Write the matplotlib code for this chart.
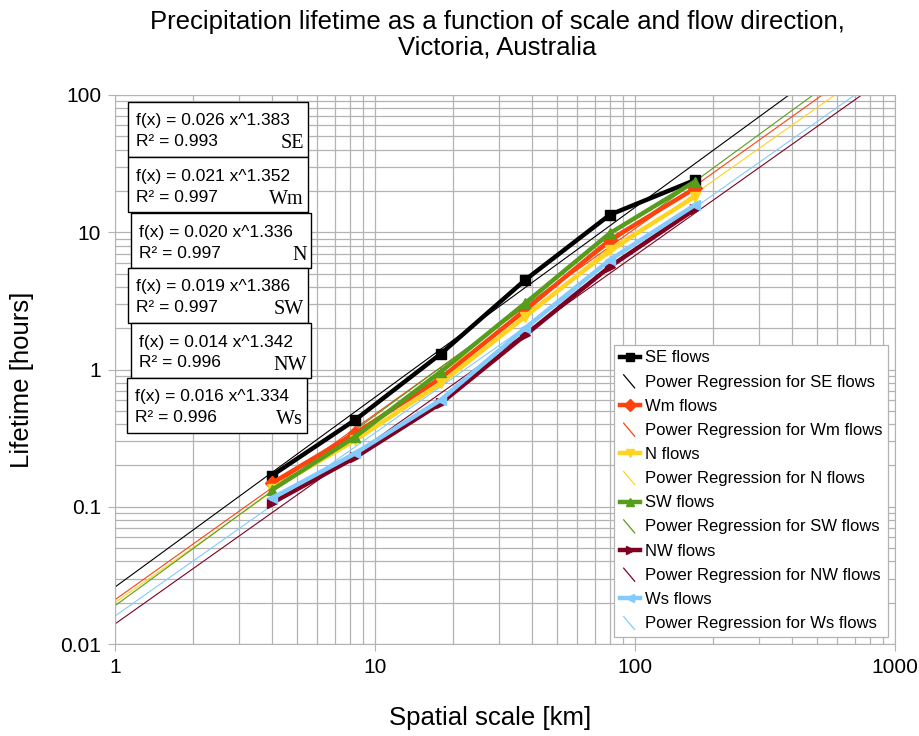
import numpy as np
import matplotlib
matplotlib.use("Agg")
import matplotlib.pyplot as plt
from matplotlib.lines import Line2D
from matplotlib.legend_handler import HandlerBase
from matplotlib.ticker import FixedLocator, LogLocator, NullFormatter, FuncFormatter

plt.rcParams['font.family'] = ['Liberation Sans', 'DejaVu Sans']

scales = [4, 8.4, 17.9, 37.8, 80, 170]
series_names = ["SE", "Wm", "N", "SW", "NW", "Ws"]
lifetime_SE = [0.168, 0.43, 1.30, 4.49, 13.4, 24.0]
lifetime_Wm = [0.148, 0.343, 0.863, 2.71, 8.78, 20.9]
lifetime_N = [0.135, 0.306, 0.793, 2.43, 7.43, 18.2]
lifetime_SW = [0.132, 0.324, 0.964, 3.04, 9.83, 23.4]
lifetime_NW = [0.106, 0.229, 0.567, 1.78, 5.61, 14.7]
lifetime_Ws = [0.115, 0.245, 0.60, 2.0, 6.28, 15.8]
coef = [0.026, 0.021, 0.020, 0.019, 0.014, 0.016]
expo = [1.383, 1.352, 1.336, 1.386, 1.342, 1.334]
r2 = [0.993, 0.997, 0.997, 0.997, 0.996, 0.996]
colors = ["#000000", "#FF420E", "#FFD320", "#579D1C", "#7E0021", "#83CAFF"]
markers = ["s", "D", "v", "^", ">", "<"]
x_ticks = [1, 10, 100, 1000]
y_ticks = [0.01, 0.1, 1, 10, 100]

data = [lifetime_SE, lifetime_Wm, lifetime_N, lifetime_SW, lifetime_NW, lifetime_Ws]

fig = plt.figure(figsize=(9.2, 7.36), dpi=100)
ax = fig.add_axes([115/920, 1-644/736, (895-115)/920, (644-95)/736])
ax.set_xscale('log')
ax.set_yscale('log')
ax.set_xlim(1, 1000)
ax.set_ylim(0.01, 100)

ax.xaxis.set_major_locator(FixedLocator(x_ticks))
ax.yaxis.set_major_locator(FixedLocator(y_ticks))
ax.xaxis.set_minor_locator(LogLocator(base=10, subs=np.arange(2, 10), numticks=20))
ax.yaxis.set_minor_locator(LogLocator(base=10, subs=np.arange(2, 10), numticks=20))
ax.xaxis.set_minor_formatter(NullFormatter())
ax.yaxis.set_minor_formatter(NullFormatter())
fmt = FuncFormatter(lambda v, p: '%g' % v)
ax.xaxis.set_major_formatter(fmt)
ax.yaxis.set_major_formatter(fmt)
ax.tick_params(which='major', length=5, color='#b3b3b3', labelsize=15, pad=5)
ax.tick_params(which='minor', length=0)
ax.grid(True, which='both', color='#b3b3b3', lw=0.9)
ax.set_axisbelow(True)
for s in ax.spines.values():
    s.set_color('#b3b3b3')

xfit = np.logspace(0, 3, 200)
handles = []
labels = []
for i, name in enumerate(series_names):
    ln, = ax.plot(scales, data[i], color=colors[i], lw=3.2, marker=markers[i],
                  ms=7, zorder=3 + i * 0.1)
    rl, = ax.plot(xfit, coef[i] * xfit ** expo[i], color=colors[i], lw=0.8, zorder=2.5)
    handles += [ln, rl]
    labels += [name + " flows", "Power Regression for " + name + " flows"]


class DiagHandler(HandlerBase):
    def create_artists(self, legend, orig_handle, xdescent, ydescent, width,
                       height, fontsize, trans):
        l = Line2D([xdescent + width * 0.2, xdescent + width * 0.75],
                   [height * 1.0, height * 0.0 - 1],
                   color=orig_handle.get_color(), lw=0.9, transform=trans)
        return [l]


hmap = {h: DiagHandler() for h in handles[1::2]}
leg = ax.legend(handles, labels, handler_map=hmap, loc='lower right',
                bbox_to_anchor=((888 - 115) / 780, (644 - 637) / 549), borderaxespad=0,
                fontsize=12, frameon=True,
                fancybox=False, edgecolor='#b3b3b3', framealpha=1,
                handlelength=1.2, handletextpad=0.3, labelspacing=0.55,
                borderpad=0.35, markerscale=0.9)
leg.get_frame().set_linewidth(0.9)

# equation boxes
box_x = [128, 128, 131, 128, 131, 127]
box_top = [102, 157, 213, 268, 323, 378]
box_w = 180
box_h = 55
for i, name in enumerate(series_names):
    x0 = box_x[i] / 920
    y0 = 1 - (box_top[i] + box_h) / 736
    r = plt.Rectangle((x0, y0), box_w / 920, box_h / 736, transform=fig.transFigure,
                      facecolor='white', edgecolor='black', lw=1, zorder=10)
    fig.add_artist(r)
    fig.text(x0 + 8 / 920, 1 - (box_top[i] + 19) / 736,
             "f(x) = %.3f x^%.3f" % (coef[i], expo[i]), fontsize=12.5,
             va='center', ha='left', zorder=11)
    fig.text(x0 + 8 / 920, 1 - (box_top[i] + 40) / 736,
             "R² = %.3f" % r2[i], fontsize=12.5, va='center', ha='left', zorder=11)
    fig.text(x0 + (box_w - 4) / 920, 1 - (box_top[i] + 42) / 736, name,
             fontsize=14.5, family=['Liberation Serif', 'DejaVu Serif'],
             va='center', ha='right', zorder=11)

fig.text(497 / 920, 1 - 35 / 736,
         "Precipitation lifetime as a function of scale and flow direction,\nVictoria, Australia",
         ha='center', va='center', fontsize=18.5, linespacing=1.1)
fig.text(490 / 920, 1 - 718 / 736, "Spatial scale [km]", ha='center', va='center', fontsize=18.5)
fig.text(22 / 920, 1 - 380 / 736, "Lifetime [hours]", ha='center', va='center',
         fontsize=18.5, rotation=90)

fig.savefig("out.png", dpi=100)
